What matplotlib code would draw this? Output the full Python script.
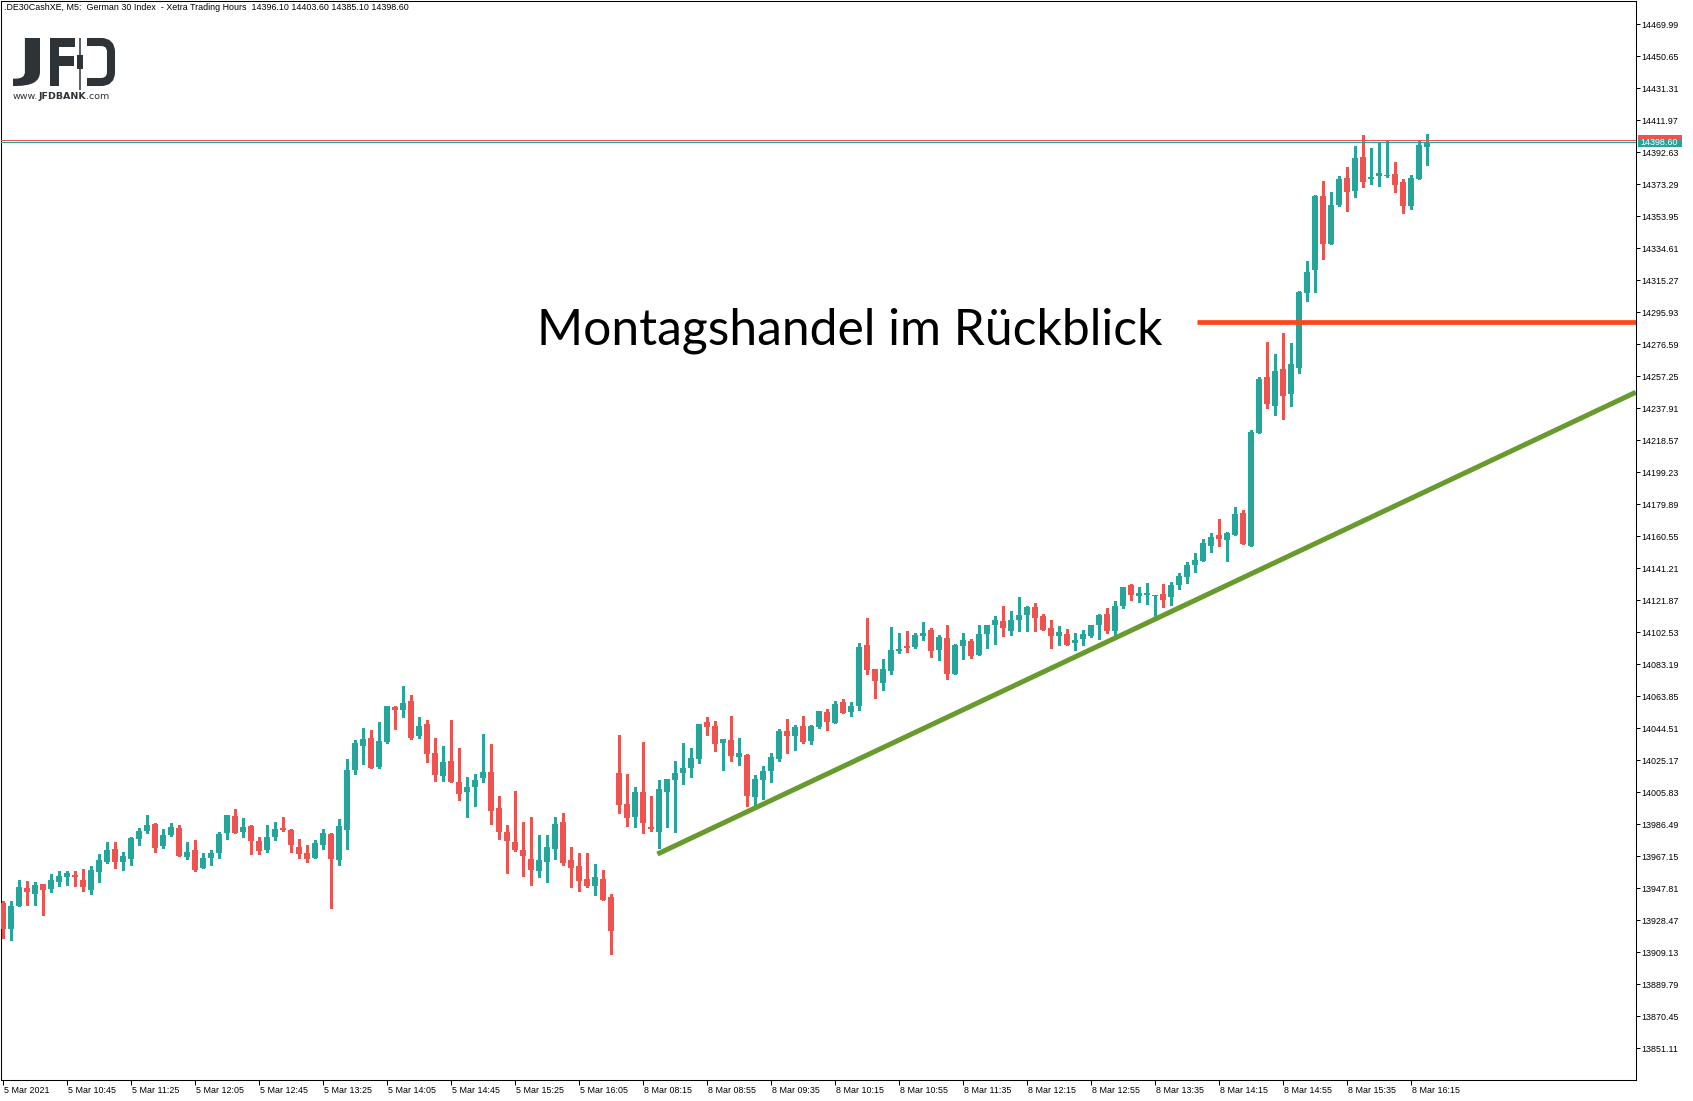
import numpy as np
import pandas as pd
import matplotlib
matplotlib.use("Agg")
import matplotlib.pyplot as plt
from matplotlib.patches import Rectangle, PathPatch
from matplotlib.path import Path
from matplotlib.textpath import TextPath
from matplotlib.font_manager import FontProperties
from matplotlib.transforms import Affine2D, blended_transform_factory, ScaledTranslation

plt.rcParams['font.family'] = ['Liberation Sans', 'DejaVu Sans']

# M5 candles, 5 Mar 10:05 .. 16:25 and 8 Mar 08:00 .. 16:25
opens = [13938.7, 13923.4, 13937.1, 13948.0, 13944.4, 13950.4, 13947.4, 13951.6, 13954.6, 13955.8,
         13952.8, 13946.8, 13957.7, 13963.7, 13971.6, 13963.7, 13965.5, 13977.6, 13982.4, 13986.7,
         13973.4, 13980.0, 13984.2, 13966.7, 13970.9, 13960.1, 13966.1, 13969.1, 13981.2, 13991.5,
         13981.8, 13985.5, 13976.4, 13970.9, 13978.8, 13984.2, 13983.0, 13972.8, 13969.1, 13966.1,
         13974.0, 13980.6, 13964.9, 13983.0, 14019.3, 14033.8, 14038.6, 14021.1, 14036.2, 14057.4,
         14055.6, 14061.0, 14039.9, 14047.1, 14029.6, 14015.7, 14024.7, 14012.0, 14006.0, 14009.0,
         14014.5, 14018.1, 13996.3, 13981.8, 13975.8, 13970.9, 13965.5, 13958.3, 13963.7, 13971.6,
         13987.9, 13964.9, 13961.3, 13953.4, 13949.2, 13953.4, 13942.5,
         14017.5, 13998.8, 13991.1, 14006.0, 13984.8, 13982.0, 14006.2, 14013.5, 14017.7, 14020.7,
         14026.1, 14048.3, 14045.9, 14035.8, 14037.4, 14027.4, 14028.4, 14003.2, 14013.5, 14018.9,
         14026.1, 14042.9, 14040.1, 14045.9, 14037.0, 14045.5, 14054.4, 14047.9, 14060.4, 14054.6,
         14058.2, 14094.8, 14080.4, 14072.1, 14079.3, 14091.4, 14094.2, 14093.8, 14100.5, 14103.9,
         14092.0, 14099.1, 14077.5, 14094.5, 14097.3, 14089.0, 14101.7, 14107.1, 14109.4, 14103.5,
         14110.2, 14113.2, 14117.8, 14112.4, 14105.1, 14100.5, 14101.5, 14096.3, 14098.7, 14100.5,
         14107.1, 14113.6, 14103.5, 14118.6, 14131.1, 14124.7, 14125.3, 14124.7, 14125.7, 14124.1,
         14131.1, 14136.1, 14143.4, 14145.8, 14154.9, 14161.3, 14158.5, 14161.5, 14174.6, 14154.9,
         14223.2, 14256.8, 14239.5, 14261.7, 14246.8, 14262.4, 14307.8, 14321.7, 14366.2, 14337.4,
         14361.0, 14377.1, 14369.4, 14389.8, 14376.7, 14378.5, 14378.5, 14379.5, 14374.6, 14360.4,
         14376.7, 14396.1]
highs = [13940.1, 13940.1, 13952.8, 13952.2, 13951.6, 13950.4, 13956.4, 13958.3, 13958.3, 13958.3,
         13959.5, 13961.3, 13968.5, 13975.8, 13975.8, 13969.7, 13978.8, 13984.2, 13992.1, 13987.3,
         13983.6, 13987.3, 13986.1, 13975.8, 13977.0, 13969.1, 13970.9, 13981.8, 13992.1, 13995.7,
         13990.3, 13986.1, 13978.8, 13986.1, 13987.9, 13990.9, 13983.6, 13977.6, 13974.0, 13977.0,
         13983.6, 13981.2, 13989.7, 14025.9, 14037.4, 14044.7, 14043.5, 14048.3, 14058.0, 14058.0,
         14070.1, 14064.6, 14051.3, 14049.5, 14038.6, 14033.8, 14049.5, 14032.6, 14015.1, 14016.9,
         14041.1, 14035.0, 14003.6, 13986.1, 14006.6, 13987.9, 13990.9, 13980.0, 13980.0, 13990.9,
         13993.3, 13972.8, 13969.1, 13969.1, 13962.5, 13958.9, 13944.4,
         14040.5, 14016.9, 14009.0, 14036.2, 14003.6, 14013.3, 14013.9, 14024.7, 14035.6, 14032.6,
         14047.1, 14051.5, 14048.9, 14038.0, 14051.9, 14038.6, 14029.0, 14016.3, 14021.7, 14029.6,
         14044.1, 14050.1, 14046.5, 14051.9, 14046.5, 14054.9, 14056.2, 14061.0, 14062.2, 14060.4,
         14096.1, 14111.2, 14080.4, 14086.4, 14105.7, 14102.1, 14103.3, 14102.1, 14108.8, 14105.1,
         14100.9, 14106.9, 14095.5, 14102.1, 14098.5, 14106.9, 14106.9, 14112.4, 14118.4, 14115.4,
         14123.9, 14118.4, 14120.2, 14113.6, 14110.0, 14106.3, 14104.5, 14102.1, 14103.9, 14106.9,
         14113.6, 14117.2, 14121.4, 14129.9, 14131.7, 14129.9, 14132.3, 14125.1, 14131.7, 14132.9,
         14138.4, 14145.0, 14150.5, 14158.9, 14162.5, 14171.0, 14163.1, 14178.3, 14176.4, 14224.8,
         14256.8, 14278.0, 14270.7, 14283.4, 14277.4, 14308.8, 14326.9, 14366.8, 14375.3, 14368.6,
         14378.3, 14383.7, 14396.4, 14403.1, 14395.2, 14398.9, 14399.5, 14386.8, 14376.5, 14378.9,
         14399.5, 14403.6]
lows = [13917.6, 13916.6, 13937.1, 13937.7, 13937.7, 13931.7, 13945.6, 13949.2, 13949.8, 13949.2,
        13946.2, 13944.4, 13951.6, 13963.1, 13960.1, 13958.9, 13961.9, 13974.0, 13981.2, 13969.7,
        13972.2, 13979.4, 13967.3, 13965.5, 13958.3, 13960.1, 13961.9, 13966.1, 13977.6, 13981.2,
        13978.8, 13968.5, 13968.5, 13969.7, 13977.0, 13982.4, 13969.7, 13966.1, 13963.7, 13966.1,
        13971.6, 13935.9, 13961.9, 13971.6, 14016.9, 14022.9, 14020.5, 14020.5, 14035.6, 14044.1,
        14051.3, 14038.0, 14038.6, 14024.1, 14012.7, 14012.7, 14012.0, 14001.2, 13990.9, 13997.6,
        14012.0, 13986.7, 13977.6, 13957.0, 13970.3, 13955.2, 13949.8, 13954.6, 13951.6, 13965.5,
        13961.9, 13948.6, 13946.2, 13948.6, 13943.7, 13940.7, 13908.1,
        13993.5, 13985.7, 13985.1, 13981.4, 13982.6, 13972.4, 13985.1, 13982.0, 14011.0, 14015.3,
        14023.7, 14040.7, 14031.0, 14019.3, 14024.9, 14022.5, 13997.8, 13997.1, 14002.0, 14012.3,
        14024.9, 14029.8, 14031.6, 14035.8, 14035.2, 14044.9, 14043.7, 14047.9, 14053.6, 14051.7,
        14055.8, 14077.5, 14063.0, 14067.9, 14077.5, 14090.2, 14090.8, 14093.2, 14098.1, 14087.8,
        14086.0, 14074.5, 14077.5, 14086.6, 14087.2, 14089.0, 14093.2, 14095.7, 14100.5, 14101.1,
        14103.5, 14103.5, 14103.5, 14104.1, 14093.2, 14095.0, 14095.0, 14092.0, 14095.0, 14099.9,
        14098.7, 14102.3, 14101.1, 14117.4, 14122.3, 14121.0, 14119.8, 14112.6, 14118.0, 14119.0,
        14128.7, 14132.5, 14139.2, 14145.8, 14151.3, 14154.9, 14145.8, 14161.5, 14156.1, 14154.9,
        14223.2, 14238.3, 14234.1, 14231.6, 14239.5, 14259.4, 14303.0, 14308.4, 14328.3, 14337.4,
        14360.4, 14357.4, 14365.8, 14371.9, 14373.7, 14372.5, 14377.9, 14368.8, 14356.1, 14358.6,
        14376.7, 14385.1]
closes = [13923.0, 13937.1, 13948.6, 13945.6, 13949.8, 13946.8, 13952.8, 13955.2, 13957.0, 13954.6,
          13948.6, 13958.9, 13964.9, 13970.9, 13963.7, 13967.3, 13978.2, 13982.4, 13986.1, 13972.2,
          13980.0, 13984.8, 13967.3, 13969.7, 13958.9, 13966.1, 13969.1, 13980.6, 13992.1, 13981.2,
          13984.8, 13976.4, 13970.3, 13978.8, 13983.6, 13983.0, 13974.0, 13968.5, 13965.5, 13975.2,
          13981.2, 13965.5, 13985.5, 14019.3, 14035.6, 14038.0, 14020.5, 14036.8, 14058.0, 14055.6,
          14059.8, 14038.6, 14045.9, 14028.9, 14016.3, 14024.1, 14012.0, 14004.8, 14009.0, 14013.3,
          14018.1, 13994.5, 13981.8, 13976.4, 13970.9, 13967.3, 13958.9, 13964.9, 13972.8, 13986.7,
          13963.1, 13960.1, 13952.2, 13949.2, 13954.6, 13940.7, 13922.0,
          13998.4, 13990.5, 14006.0, 13987.5, 13983.6, 14007.8, 14013.9, 14017.5, 14020.5, 14026.6,
          14047.1, 14045.5, 14035.2, 14038.0, 14027.9, 14029.6, 14003.8, 14013.9, 14018.7, 14027.2,
          14042.9, 14040.1, 14045.5, 14036.4, 14045.9, 14054.9, 14048.5, 14059.2, 14053.9, 14058.0,
          14093.6, 14079.9, 14073.3, 14080.4, 14091.8, 14092.4, 14093.2, 14100.9, 14102.1, 14091.4,
          14099.7, 14077.5, 14094.8, 14097.9, 14088.2, 14101.5, 14106.9, 14110.0, 14105.3, 14110.0,
          14113.0, 14117.8, 14111.4, 14104.1, 14100.5, 14102.7, 14095.0, 14097.9, 14101.5, 14106.9,
          14113.2, 14103.5, 14118.4, 14129.9, 14125.3, 14126.3, 14126.3, 14125.1, 14122.0, 14130.9,
          14136.6, 14143.2, 14146.2, 14156.5, 14160.1, 14158.9, 14162.5, 14174.0, 14156.1, 14223.6,
          14255.6, 14240.7, 14260.4, 14245.5, 14264.7, 14308.2, 14320.3, 14366.2, 14337.4, 14360.8,
          14376.5, 14368.8, 14389.2, 14374.9, 14377.7, 14380.1, 14378.9, 14373.1, 14360.4, 14377.1,
          14397.0, 14398.6]

time_labels = ["5 Mar 2021", "5 Mar 10:45", "5 Mar 11:25", "5 Mar 12:05", "5 Mar 12:45",
               "5 Mar 13:25", "5 Mar 14:05", "5 Mar 14:45", "5 Mar 15:25", "5 Mar 16:05",
               "8 Mar 08:15", "8 Mar 08:55", "8 Mar 09:35", "8 Mar 10:15", "8 Mar 10:55",
               "8 Mar 11:35", "8 Mar 12:15", "8 Mar 12:55", "8 Mar 13:35", "8 Mar 14:15",
               "8 Mar 14:55", "8 Mar 15:35", "8 Mar 16:15"]
bars_per_label = 8

price_tick_first = 13851.11
price_tick_step = 19.34
price_tick_count = 33

header = ".DE30CashXE, M5:  German 30 Index  - Xetra Trading Hours  14396.10 14403.60 14385.10 14398.60"
bid = 14398.60
ask = 14399.90

headline = "Montagshandel im Rückblick"
resistance_level = 14290.1
resistance_from = 149.25
trend_x = [81.8, 204.1]
trend_y = [13968.5, 14247.6]

GREEN = '#26A69A'
RED = '#EF5350'
LOGO = '#2E3338'

W, H = 1693, 1101
fig = plt.figure(figsize=(W / 100, H / 100), dpi=100)
fig.patch.set_facecolor('white')
ax = fig.add_axes([1 / W, 1 - 1080 / H, 1634.7 / W, 1079 / H])
ax.set_xlim(-0.25, 204.09)
ax.set_ylim(13831.94, 14484.07)

# candles
df = pd.DataFrame({'open': opens, 'high': highs, 'low': lows, 'close': closes})
xs = np.arange(len(df))
colors = np.where(df['close'] >= df['open'], GREEN, RED)
ax.vlines(xs, df['low'], df['high'], colors=colors, lw=0.75, antialiased=False, zorder=2)
body_low = df[['open', 'close']].min(axis=1)
body_h = (df['close'] - df['open']).abs().clip(lower=0.6)
ax.bar(xs, body_h, bottom=body_low, width=0.64, color=colors, linewidth=0,
       antialiased=False, zorder=3)

# bid / ask lines
ax.axhline(ask, color=RED, lw=0.75, zorder=4)
ax.axhline(bid, color=GREEN, lw=0.75, zorder=4)

# drawn objects
ax.plot(trend_x, trend_y, color='#679B2E', lw=3.6, solid_capstyle='butt', zorder=5)
ax.plot([resistance_from, ax.get_xlim()[1]], [resistance_level] * 2, color='#FF4419',
        lw=3.4, solid_capstyle='butt', zorder=5)

# axes styling
for sp in ax.spines.values():
    sp.set_color('black')
    sp.set_linewidth(0.75)
ax.yaxis.tick_right()
yt = np.round(price_tick_first + price_tick_step * np.arange(price_tick_count), 2)
ax.set_yticks(yt)
ax.set_yticklabels([f'{v:.2f}' for v in yt])
ax.set_xticks(np.arange(len(time_labels)) * bars_per_label)
ax.set_xticklabels(time_labels)
ax.tick_params(axis='y', direction='out', length=2.9, width=0.75, pad=0.8, labelsize=6.4)
ax.tick_params(axis='x', direction='out', length=3.6, width=0.75, pad=1.0, labelsize=6.4)
shift = ScaledTranslation(1.5 / 100, 0, fig.dpi_scale_trans)
for lab in ax.get_xticklabels():
    lab.set_ha('left')
    lab.set_transform(lab.get_transform() + shift)

# overlay in pixel coordinates
ov = fig.add_axes([0, 0, 1, 1], zorder=10)
ov.set_xlim(0, W)
ov.set_ylim(H, 0)
ov.axis('off')

# current price label on the right scale
mix = blended_transform_factory(ov.transData, ax.transData)
box_h = 10 * 0.60438
ov.add_patch(Rectangle((1638, ask - box_h / 2), 44, box_h, transform=mix, fc=RED, ec='none',
                       clip_on=False))
ov.add_patch(Rectangle((1638, bid - box_h / 2), 44, box_h - 0.8, transform=mix, fc=GREEN,
                       ec='none', clip_on=False))
ov.text(1640, bid, f'{bid:.2f}', transform=mix, color='white', fontsize=6.4, va='center',
        ha='left', clip_on=False)

# header
ov.text(4.5, 8, header, fontsize=6.4, va='center', ha='left', color='black')

# headline
t = ov.text(537, 344, headline, family=['Lato', 'DejaVu Sans'], fontsize=36, va='baseline',
            ha='left', color='black')
fig.canvas.draw()
w = t.get_window_extent().width
t.set_fontsize(36 * 626 / w)


def glyph(s, x0, y0, x1, y1, weight='bold', family='DejaVu Sans'):
    tp = TextPath((0, 0), s, size=100, prop=FontProperties(family=family, weight=weight))
    e = tp.get_extents()
    tr = Affine2D().translate(-e.x0, -e.y1).scale((x1 - x0) / e.width,
                                                  -(y1 - y0) / e.height).translate(x0, y0)
    ov.add_patch(PathPatch(tr.transform_path(tp), fc=LOGO, ec='none'))


# JFD logo
glyph('J', 13, 38, 40, 86)
glyph('F', 50, 38, 75, 86)
ov.plot([80, 80], [38, 90], color=LOGO, lw=1.1, solid_capstyle='butt')
ov.add_patch(Rectangle((77, 55), 6, 14, fc=LOGO, ec='none'))
d_path = Path([(87, 42), (101, 42), (111, 42), (111, 52), (111, 72), (111, 82), (101, 82), (87, 82)],
              [Path.MOVETO, Path.LINETO, Path.CURVE3, Path.CURVE3, Path.LINETO, Path.CURVE3,
               Path.CURVE3, Path.LINETO])
ov.add_patch(PathPatch(d_path, fill=False, ec=LOGO, lw=5.8, capstyle='butt', joinstyle='miter'))

t1 = ov.text(13, 99, 'www.', fontsize=6.8, family='DejaVu Sans', color=LOGO, va='baseline')
t2 = ov.annotate('JFDBANK', xy=(1, 0), xycoords=t1, fontsize=6.8, family='DejaVu Sans',
                 weight='bold', color=LOGO, va='bottom', ha='left')
ov.annotate('.com', xy=(1, 0), xycoords=t2, fontsize=6.8, family='DejaVu Sans', color=LOGO,
            va='bottom', ha='left')

fig.savefig('out.png', dpi=100, facecolor='white')
